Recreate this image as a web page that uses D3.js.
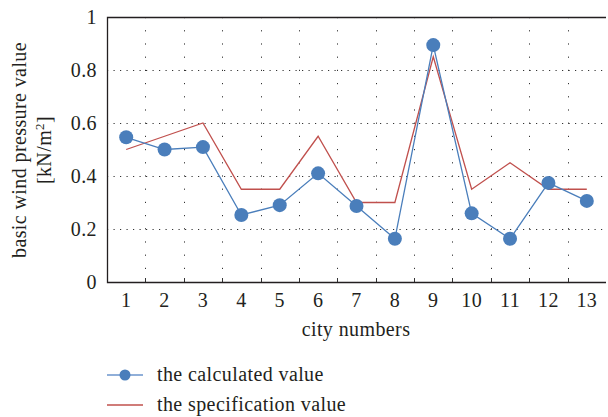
<!DOCTYPE html>
<html>
<head>
<meta charset="utf-8">
<script src="https://cdn.jsdelivr.net/npm/d3@7"></script>
<style>
  body { margin: 0; background: #fff; }
  text { font-family: "Liberation Serif", "DejaVu Serif", serif; fill: #231f20; letter-spacing: 0.4px; }
</style>
</head>
<body>
<div id="chart"></div>
<script>
const cities = ["1","2","3","4","5","6","7","8","9","10","11","12","13"];
const calculated = [0.546, 0.50, 0.509, 0.253, 0.29, 0.41, 0.287, 0.163, 0.894, 0.259, 0.163, 0.374, 0.306];
const specification = [0.50, 0.55, 0.60, 0.35, 0.35, 0.55, 0.30, 0.30, 0.85, 0.35, 0.45, 0.35, 0.35];
const yTicks = [0, 0.2, 0.4, 0.6, 0.8, 1];

const W = 608, H = 417;
const svg = d3.select("#chart").append("svg")
    .attr("width", W)
    .attr("height", H);

const pLeft = 107, pRight = 606, pTop = 17, pBottom = 282;

const x = d3.scaleBand().domain(cities).range([pLeft, pRight]);
const y = d3.scaleLinear().domain([0, 1]).range([pBottom, pTop]);

// dotted grid
svg.append("g")
    .selectAll("line")
    .data(yTicks.filter(d => d > 0 && d < 1))
    .join("line")
    .attr("x1", pLeft).attr("x2", pRight)
    .attr("y1", d => Math.round(y(d)) + 0.5).attr("y2", d => Math.round(y(d)) + 0.5)
    .attr("stroke", "#333")
    .attr("stroke-width", 1)
    .attr("stroke-dasharray", "1.2,5.3");

svg.append("g")
    .selectAll("line")
    .data(cities.slice(1))
    .join("line")
    .attr("x1", d => Math.round(x(d)) + 0.5).attr("x2", d => Math.round(x(d)) + 0.5)
    .attr("y1", pTop).attr("y2", pBottom)
    .attr("stroke", "#333")
    .attr("stroke-width", 1)
    .attr("stroke-dasharray", "1.2,12");

// small ticks on x axis at category bounds
svg.append("g")
    .selectAll("line")
    .data(cities.slice(1))
    .join("line")
    .attr("x1", d => Math.round(x(d)) + 0.5).attr("x2", d => Math.round(x(d)) + 0.5)
    .attr("y1", pBottom).attr("y2", pBottom - 4)
    .attr("stroke", "#333");

// frame
svg.append("path")
    .attr("d", `M${pRight},${pTop + 0.5}H${pLeft + 0.5}V${pBottom + 0.5}H${pRight}`)
    .attr("fill", "none")
    .attr("stroke", "#231f20")
    .attr("stroke-width", 1.3);

// y tick labels
svg.append("g")
    .selectAll("text")
    .data(yTicks)
    .join("text")
    .attr("x", 97)
    .attr("y", d => y(d))
    .attr("dy", "0.35em")
    .attr("text-anchor", "end")
    .attr("font-size", 20)
    .text(d => d === 0 || d === 1 ? String(d) : d.toFixed(1));

// x tick labels
svg.append("g")
    .selectAll("text")
    .data(cities)
    .join("text")
    .attr("x", d => x(d) + x.bandwidth() / 2)
    .attr("y", 307)
    .attr("text-anchor", "middle")
    .attr("font-size", 20)
    .text(d => d);

svg.append("text")
    .attr("x", 356)
    .attr("y", 336)
    .attr("text-anchor", "middle")
    .attr("font-size", 20)
    .text("city numbers");

// y axis title
const yt = svg.append("text")
    .attr("transform", "translate(0,150) rotate(-90)")
    .attr("text-anchor", "middle")
    .attr("font-size", 20);
yt.append("tspan").attr("x", 0).attr("y", 26).text("basic wind pressure value");
const t2 = yt.append("tspan").attr("x", 0).attr("y", 51).text("[kN/m");
t2.append("tspan").attr("font-size", 13).attr("dy", -7).text("2");
t2.append("tspan").attr("dy", 7).text("]");

const cx = d => x(d) + x.bandwidth() / 2;

// specification line
svg.append("path")
    .datum(specification)
    .attr("fill", "none")
    .attr("stroke", "#c0504d")
    .attr("stroke-width", 1.3)
    .attr("d", d3.line().x((d, i) => cx(cities[i])).y(d => y(d)));

// calculated line
svg.append("path")
    .datum(calculated)
    .attr("fill", "none")
    .attr("stroke", "#4a7ebb")
    .attr("stroke-width", 1.3)
    .attr("d", d3.line().x((d, i) => cx(cities[i])).y(d => y(d)));

svg.append("g")
    .selectAll("circle")
    .data(calculated)
    .join("circle")
    .attr("cx", (d, i) => cx(cities[i]))
    .attr("cy", d => y(d))
    .attr("r", 7)
    .attr("fill", "#4a7ebb");

// legend
const lg = svg.append("g");
lg.append("line")
    .attr("x1", 107).attr("x2", 143).attr("y1", 375).attr("y2", 375)
    .attr("stroke", "#6b94cc").attr("stroke-width", 1.5);
lg.append("circle").attr("cx", 125).attr("cy", 375).attr("r", 5.5).attr("fill", "#4a7ebb");
lg.append("text").attr("x", 157).attr("y", 381).attr("font-size", 20).text("the calculated value");
lg.append("line")
    .attr("x1", 107).attr("x2", 143).attr("y1", 405).attr("y2", 405)
    .attr("stroke", "#c0504d").attr("stroke-width", 1.3);
lg.append("text").attr("x", 157).attr("y", 411).attr("font-size", 20).text("the specification value");
</script>
</body>
</html>
